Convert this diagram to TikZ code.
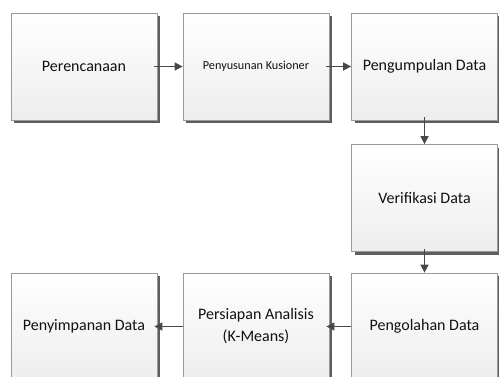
\documentclass[tikz,border=0pt]{standalone}
\usepackage{fontspec}
\setmainfont{Carlito}
\usetikzlibrary{arrows.meta,shadows}
\definecolor{boxline}{HTML}{9A9A9A}
\definecolor{shadowc}{HTML}{5E5E5E}
\definecolor{arrowc}{HTML}{484848}
\definecolor{txt}{HTML}{111111}
\tikzset{
  procbox/.style={draw=boxline, line width=0.8bp, top color=white, bottom color=black!7,
    minimum width=146bp, minimum height=107bp, inner sep=2bp, align=center, text=txt,
    font=\fontsize{16bp}{22bp}\selectfont,
    drop shadow={shadow xshift=3bp, shadow yshift=-3bp, fill=shadowc, opacity=1}},
  flow/.style={draw=arrowc, line width=1.5bp, -{Triangle[length=8bp,width=8bp]}},
}
\begin{document}
\begin{tikzpicture}[x=1bp,y=-1bp]
\useasboundingbox (0,0) rectangle (499,376);
\node[procbox] (a) at (84,66.5) {Perencanaan};
\node[procbox, font=\fontsize{12.2bp}{14bp}\selectfont] (b) at (256,66.5) {Penyusunan Kusioner};
\node[procbox] (c) at (424.5,66.5) {Pengumpulan Data};
\node[procbox] (d) at (424.5,198) {Verifikasi Data};
\node[procbox] (e) at (424.5,326.5) {Pengolahan Data};
\node[procbox] (f) at (256,326.5) {Persiapan Analisis\\(K-Means)};
\node[procbox] (g) at (84,326.5) {Penyimpanan Data};
\draw[flow, shorten <=-3bp] (a) -- (b);
\draw[flow, shorten <=-3bp] (b) -- (c);
\draw[flow, shorten <=-3bp] (c) -- (d);
\draw[flow, shorten <=-3bp] (d) -- (e);
\draw[flow, shorten >=-3bp] (e) -- (f);
\draw[flow, shorten >=-3bp] (f) -- (g);
\end{tikzpicture}
\end{document}
